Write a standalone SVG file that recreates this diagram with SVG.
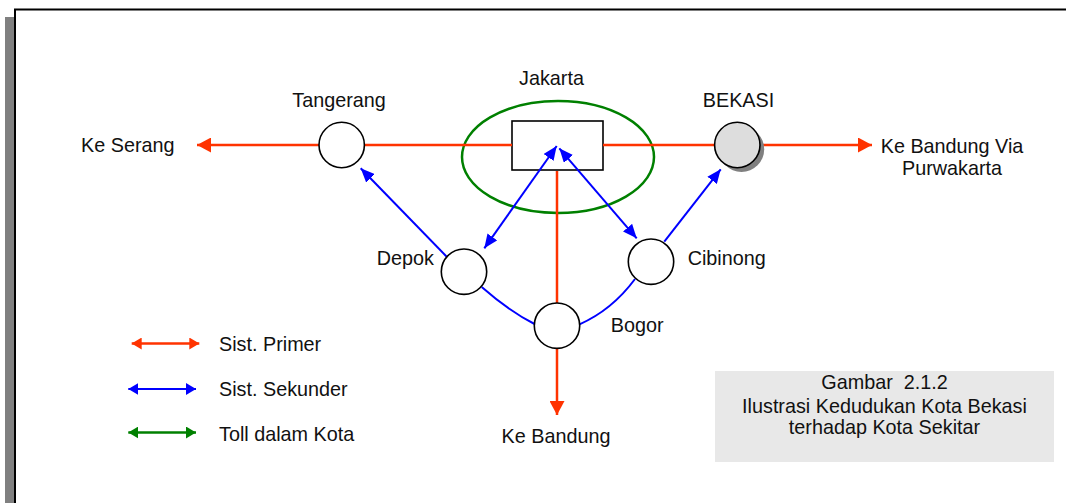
<svg xmlns="http://www.w3.org/2000/svg" width="1066" height="503" viewBox="0 0 1066 503">
  <style>
    text { font-family: "Liberation Sans", Arial, sans-serif; font-size: 19.8px; fill: #111; }
    .mid { text-anchor: middle; }
    .city { fill: #fff; stroke: #000; stroke-width: 1.6; }
    .prim { stroke: #ff3300; stroke-width: 2.5; fill: none; }
    .sek { stroke: #0000ff; stroke-width: 2; fill: none; }
    .toll { stroke: #008000; stroke-width: 2.5; fill: none; }
  </style>
  <defs>
    <marker id="arrRed" markerUnits="userSpaceOnUse" markerWidth="14" markerHeight="15" refX="14" refY="7.5" orient="auto-start-reverse">
      <path d="M0,0 L14,7.5 L0,15 z" fill="#ff3300"/>
    </marker>
    <marker id="arrBlue" markerUnits="userSpaceOnUse" markerWidth="14" markerHeight="12" refX="14" refY="6" orient="auto-start-reverse">
      <path d="M0,0 L14,6 L0,12 z" fill="#0000ff"/>
    </marker>
    <marker id="legRed" markerUnits="userSpaceOnUse" markerWidth="10" markerHeight="12" refX="10" refY="6" orient="auto-start-reverse">
      <path d="M0,0 L10,6 L0,12 z" fill="#ff3300"/>
    </marker>
    <marker id="legBlue" markerUnits="userSpaceOnUse" markerWidth="10" markerHeight="12" refX="10" refY="6" orient="auto-start-reverse">
      <path d="M0,0 L10,6 L0,12 z" fill="#0000ff"/>
    </marker>
    <marker id="legGreen" markerUnits="userSpaceOnUse" markerWidth="10" markerHeight="12" refX="10" refY="6" orient="auto-start-reverse">
      <path d="M0,0 L10,6 L0,12 z" fill="#008000"/>
    </marker>
  </defs>

  <!-- page frame with drop shadow -->
  <rect x="5" y="17" width="10" height="500" fill="#808080"/>
  <rect x="15" y="9.5" width="1070" height="510" fill="#fff" stroke="#000" stroke-width="2"/>

  <!-- Jakarta: city box inside the inner toll ring (drawn first so the secondary links show on top) -->
  <g id="jakarta">
    <ellipse class="toll" cx="558" cy="157" rx="96" ry="56"/>
    <rect class="city" x="512" y="121" width="91" height="49"/>
    <text class="mid" x="551.5" y="85">Jakarta</text>
  </g>

  <!-- connectors -->
  <g id="connectors">
    <!-- primary system (red) -->
    <line class="prim" x1="319" y1="145" x2="197" y2="145" marker-end="url(#arrRed)"/>
    <line class="prim" x1="364" y1="145" x2="512" y2="145"/>
    <line class="prim" x1="603" y1="145" x2="715" y2="145"/>
    <line class="prim" x1="760" y1="145" x2="872" y2="145" marker-end="url(#arrRed)"/>
    <line class="prim" x1="557" y1="171" x2="557" y2="303"/>
    <line class="prim" x1="557" y1="348" x2="557" y2="415" marker-end="url(#arrRed)"/>
    <!-- secondary system (blue) -->
    <line class="sek" x1="446.7" y1="256.7" x2="360.7" y2="168.3" marker-end="url(#arrBlue)"/>
    <line class="sek" x1="484.3" y1="248.3" x2="556.7" y2="146" marker-start="url(#arrBlue)" marker-end="url(#arrBlue)"/>
    <line class="sek" x1="559.3" y1="148.3" x2="636.7" y2="238.3" marker-start="url(#arrBlue)" marker-end="url(#arrBlue)"/>
    <line class="sek" x1="664.3" y1="241.7" x2="720.7" y2="169.3" marker-end="url(#arrBlue)"/>
    <path class="sek" d="M481.7,287 Q509,311 534.5,324"/>
    <path class="sek" d="M579.5,324.3 Q612,310 635,279"/>
  </g>

  <g id="tangerang">
    <circle class="city" cx="341.7" cy="145" r="22.7"/>
    <text class="mid" x="339" y="107">Tangerang</text>
  </g>

  <g id="bekasi">
    <circle cx="741.5" cy="149.2" r="22.7" fill="#808080"/>
    <circle cx="737.3" cy="145" r="22.7" fill="#dddddd" stroke="#000" stroke-width="1.6"/>
    <text class="mid" x="738.5" y="106.7">BEKASI</text>
  </g>

  <g id="depok">
    <circle class="city" cx="464" cy="271.7" r="22.7"/>
    <text x="376.7" y="265">Depok</text>
  </g>

  <g id="cibinong">
    <circle class="city" cx="651" cy="261.7" r="22.7"/>
    <text x="687.7" y="265">Cibinong</text>
  </g>

  <g id="bogor">
    <circle class="city" cx="557" cy="325.7" r="22.7"/>
    <text x="610.7" y="332">Bogor</text>
  </g>

  <g id="ke-serang">
    <text x="81" y="152">Ke Serang</text>
  </g>

  <g id="ke-bandung-via-purwakarta">
    <text class="mid" x="952" y="153">Ke Bandung Via</text>
    <text class="mid" x="952" y="175">Purwakarta</text>
  </g>

  <g id="ke-bandung">
    <text class="mid" x="556" y="443">Ke Bandung</text>
  </g>

  <!-- legend -->
  <g id="legend">
    <line class="prim" x1="131.7" y1="343.5" x2="199.3" y2="343.5" stroke-width="2" marker-start="url(#legRed)" marker-end="url(#legRed)"/>
    <text x="219" y="350.7">Sist. Primer</text>
    <line class="sek" x1="128.3" y1="389" x2="196" y2="389" marker-start="url(#legBlue)" marker-end="url(#legBlue)"/>
    <text x="219" y="396">Sist. Sekunder</text>
    <line class="toll" x1="128.3" y1="432.5" x2="196" y2="432.5" stroke-width="2" marker-start="url(#legGreen)" marker-end="url(#legGreen)"/>
    <text x="219" y="440.7">Toll dalam Kota</text>
  </g>

  <!-- caption -->
  <g id="caption">
    <rect x="715" y="371" width="339" height="91" fill="#e8e8e8"/>
    <text class="mid" x="884.5" y="389.3" xml:space="preserve">Gambar  2.1.2</text>
    <text class="mid" x="884.5" y="412.7">Ilustrasi Kedudukan Kota Bekasi</text>
    <text class="mid" x="884.5" y="434">terhadap Kota Sekitar</text>
  </g>
</svg>
